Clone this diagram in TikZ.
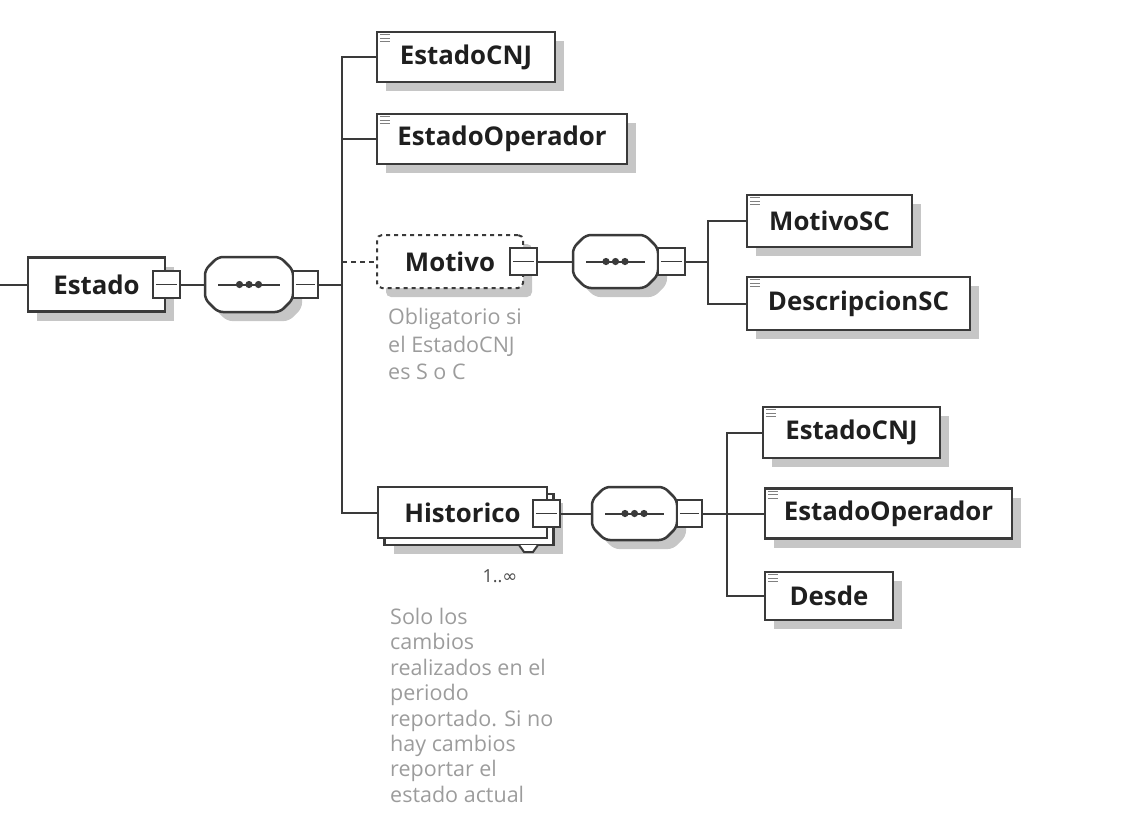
\documentclass[tikz,border=0pt]{standalone}
\usepackage{fontspec}
\setmainfont{Open Sans}
\newfontfamily\symfont{DejaVu Sans}
\usetikzlibrary{shadows}
\definecolor{bordc}{HTML}{3A3A3A}
\definecolor{shadowc}{HTML}{C6C6C6}
\definecolor{notec}{HTML}{9C9C9C}
\tikzset{
  conn/.style={draw=bordc,line width=2pt},
  shad/.style={drop shadow={shadow xshift=9pt,shadow yshift=-9pt,fill=shadowc,opacity=1}},
  elem/.style={rectangle,draw=bordc,line width=2.5pt,fill=white,inner sep=0pt,
    font=\bfseries\fontsize{25.8}{30}\selectfont,text=black!88},
  optelem/.style={elem,dash pattern=on 4pt off 4pt,line width=2pt,rounded corners=5pt},
  sq/.style={rectangle,draw=bordc,line width=2.2pt,fill=white,minimum width=27pt,
    minimum height=27pt,inner sep=0pt},
  seqbox/.style={rectangle,draw=none,inner sep=0pt},
  icon/.style={draw=black!50,line width=1.4pt},
  note/.style={text=notec,font=\fontsize{21.5}{27.5}\selectfont,align=left,anchor=north west,inner sep=0pt},
  mult/.style={text=black!70,font=\fontsize{18}{20}\selectfont,inner sep=0pt}
}
% sequence compositor
\newcommand\seqshape[5]{%
  \begin{scope}[shift={(#2,#3)}]
    \fill[shadowc,rounded corners=5pt,shift={(9,9)}] (-#4/2+13,-#5/2) -- (#4/2-13,-#5/2) --
    (#4/2,-#5/2+13) -- (#4/2,#5/2-13) -- (#4/2-13,#5/2) --
    (-#4/2+13,#5/2) -- (-#4/2,#5/2-13) -- (-#4/2,-#5/2+13) -- cycle;
    \draw[conn,line width=2.5pt,fill=white,rounded corners=5pt] (-#4/2+13,-#5/2) -- (#4/2-13,-#5/2) --
    (#4/2,-#5/2+13) -- (#4/2,#5/2-13) -- (#4/2-13,#5/2) --
    (-#4/2+13,#5/2) -- (-#4/2,#5/2-13) -- (-#4/2,-#5/2+13) -- cycle;
    \node[seqbox,minimum width=#4pt,minimum height=#5pt] (#1) at (0,0) {};
    \draw[conn] (-#4/2+13,0) -- (#4/2-13,0);
    \foreach \dx in {-9.5,0,9.5} \fill[bordc] (\dx,0) circle[radius=3.6pt];
  \end{scope}}
\newcommand\minussign[1]{\draw[bordc,line width=1.6pt] ([xshift=4pt]#1.west) -- ([xshift=-4pt]#1.east);}
\newcommand\elicon[1]{\foreach \k in {0,3.5,7}{\draw[icon] ([shift={(4pt,-4pt)}]#1.north west) ++(0,\k) -- ++(10,0);}}
\begin{document}
\begin{tikzpicture}[x=1pt,y=-1pt]
\useasboundingbox (0,0) rectangle (1125,820);

% ---------- Estado ----------
\coordinate (in) at (0,284.5);
\node[elem,shad,minimum width=137pt,minimum height=54pt] (estado) at (96.5,284.5) {Estado\hspace{5pt}};
\node[sq] (estadosq) at (166.5,284.5) {};
\minussign{estadosq}
\seqshape{seq1}{249}{284.5}{88}{55}
\node[sq,minimum width=25pt] (seq1sq) at (305.5,284.5) {};
\minussign{seq1sq}
\coordinate (b1m) at (342,284.5);

% ---------- level 1 ----------
\node[elem,shad,minimum width=178pt,minimum height=50pt] (cnj1) at (466,57) {EstadoCNJ};
\node[elem,shad,minimum width=250pt,minimum height=50pt] (op1) at (502,139) {EstadoOperador};
\node[optelem,shad,minimum width=146pt,minimum height=53pt] (motivo) at (450,261.5) {Motivo\hspace{6pt}};
\node[sq] (motivosq) at (523.5,261.5) {};
\minussign{motivosq}

% Historico (stacked)
\node[elem,shad,minimum width=169pt,minimum height=51pt] (histback) at (469,519.5) {};
\draw[conn,line width=2pt,fill=white] (519,545) -- (524,552) -- (533,552) -- (538,545);
\node[elem,minimum width=169pt,minimum height=51pt] (hist) at (462.5,512.5) {Historico\hspace{6pt}};
\node[sq] (histsq) at (546.5,513.5) {};
\minussign{histsq}
\node[mult] (histmult) at (500,576) {1..{\symfont ∞}};

% ---------- Motivo children ----------
\seqshape{seq2}{615.5}{261.5}{85}{53}
\node[sq] (seq2sq) at (671.5,261.5) {};
\minussign{seq2sq}
\coordinate (b2m) at (708,261.5);
\node[elem,shad,minimum width=165pt,minimum height=52pt] (msc) at (829.5,221) {MotivoSC};
\node[elem,shad,minimum width=223pt,minimum height=53pt] (dsc) at (858.5,303.5) {DescripcionSC};

% ---------- Historico children ----------
\seqshape{seq3}{634.5}{513.5}{85}{53}
\node[sq,minimum width=25pt] (seq3sq) at (689.5,513.5) {};
\minussign{seq3sq}
\coordinate (b3m) at (727,513.5);
\node[elem,shad,minimum width=177pt,minimum height=51pt] (cnj2) at (851.5,432.5) {EstadoCNJ};
\node[elem,shad,minimum width=247pt,minimum height=50pt] (op2) at (888.5,513.5) {EstadoOperador};
\node[elem,shad,minimum width=128pt,minimum height=48pt] (desde) at (829,596) {Desde};

\foreach \n in {cnj1,op1,msc,dsc,cnj2,op2,desde} {\elicon{\n}}

% ---------- connectors ----------
\draw[conn] (in) -- (estado.west);
\draw[conn] (estadosq.east) -- (seq1.west);
\draw[conn] (seq1sq.east) -- (b1m);
\draw[conn] (cnj1.west) -| (b1m) |- (hist.west);
\draw[conn] (b1m |- op1.west) -- (op1.west);
\draw[conn,dash pattern=on 5pt off 4pt] (b1m |- motivo.west) -- (motivo.west);

\draw[conn] (motivosq.east) -- (seq2.west);
\draw[conn] (seq2sq.east) -- (b2m);
\draw[conn] (msc.west) -| (b2m) |- (dsc.west);

\draw[conn] (histsq.east) -- (seq3.west);
\draw[conn] (seq3sq.east) -- (b3m);
\draw[conn] (cnj2.west) -| (b3m) |- (desde.west);
\draw[conn] (b3m) -- (op2.west);

% ---------- notes ----------
\node[note] (note1) at (388,308) {Obligatorio si\\el EstadoCNJ\\es S o C};
\node[note,font=\fontsize{21.5}{25.4}\selectfont] (note2) at (390,608) {Solo los\\cambios\\realizados en el\\periodo\\reportado. Si no\\hay cambios\\reportar el\\estado actual};
\end{tikzpicture}
\end{document}
